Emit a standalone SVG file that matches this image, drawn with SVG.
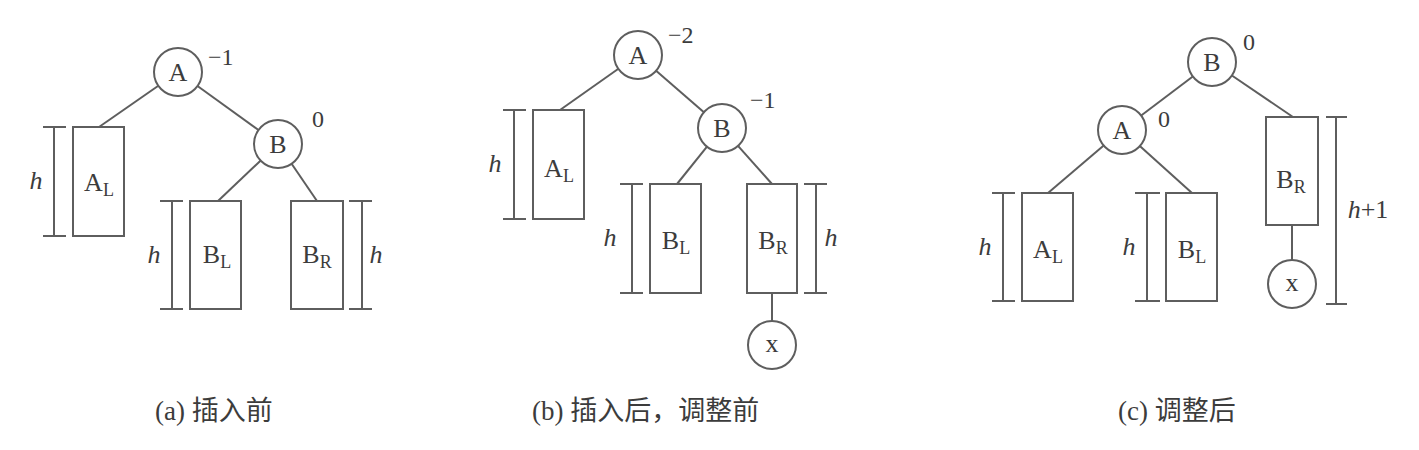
<svg xmlns="http://www.w3.org/2000/svg" width="1419" height="450" viewBox="0 0 1419 450">
<style>
.e{stroke:#5e5e5e;stroke-width:2;fill:none}
.n{fill:#fff;stroke:#5e5e5e;stroke-width:2}
.b{fill:#fff;stroke:#5e5e5e;stroke-width:2}
.k{stroke:#5e5e5e;stroke-width:2;fill:none}
text{font-family:"Liberation Serif","Noto Sans CJK SC",serif;fill:#3c3c3c}
.t{font-size:26px;text-anchor:middle}
.s{font-size:18px}
.f{font-size:24px}
.h{font-size:26px;font-style:italic;text-anchor:middle}
.c{font-size:27px}
</style>
<rect width="1419" height="450" fill="#fff"/>
<g id="connectors">
<line class="e" x1="158" y1="86" x2="99" y2="127"/>
<line class="e" x1="197.5" y1="86" x2="258.5" y2="130"/>
<line class="e" x1="260.7" y1="160.5" x2="218" y2="201"/>
<line class="e" x1="291.6" y1="163.8" x2="317" y2="201"/>
<line class="e" x1="618.4" y1="68.8" x2="560" y2="110"/>
<line class="e" x1="656.1" y1="70.7" x2="703.9" y2="112.3"/>
<line class="e" x1="707" y1="146.7" x2="677" y2="184"/>
<line class="e" x1="738" y1="145.9" x2="772" y2="184"/>
<line class="e" x1="772" y1="293" x2="772" y2="321"/>
<line class="e" x1="1192.8" y1="76.5" x2="1141.2" y2="115.5"/>
<line class="e" x1="1231.9" y1="75.5" x2="1293" y2="117"/>
<line class="e" x1="1103.7" y1="145.6" x2="1048" y2="193"/>
<line class="e" x1="1139.8" y1="146" x2="1192" y2="193"/>
<line class="e" x1="1292" y1="225" x2="1292" y2="260"/>
</g>
<g id="a-A"><circle class="n" cx="178" cy="72" r="24"/><text class="t" x="178" y="81">A</text><text class="f" x="208" y="65">−1</text></g>
<g id="a-AL"><rect class="b" x="73" y="127" width="51" height="109"/><text class="t" x="99" y="191">A<tspan class="s" dy="5">L</tspan></text>
<path class="k" d="M54 127V236M43 127H66M43 236H66"/><text class="h" x="36" y="189">h</text></g>
<g id="a-B"><circle class="n" cx="278" cy="144" r="24"/><text class="t" x="278" y="153">B</text><text class="f" x="318" y="127" text-anchor="middle">0</text></g>
<g id="a-BL"><rect class="b" x="190" y="201" width="51" height="108"/><text class="t" x="217" y="263">B<tspan class="s" dy="5">L</tspan></text>
<path class="k" d="M172 201V309M160 201H183M160 309H183"/><text class="h" x="154" y="263">h</text></g>
<g id="a-BR"><rect class="b" x="291" y="201" width="52" height="108"/><text class="t" x="317" y="263">B<tspan class="s" dy="5">R</tspan></text>
<path class="k" d="M362 201V309M349 201H372M349 309H372"/><text class="h" x="376" y="263">h</text></g>

<g id="b-A"><circle class="n" cx="638" cy="55" r="24"/><text class="t" x="638" y="64">A</text><text class="f" x="668" y="43">−2</text></g>
<g id="b-AL"><rect class="b" x="533" y="110" width="51" height="109"/><text class="t" x="559" y="177">A<tspan class="s" dy="5">L</tspan></text>
<path class="k" d="M514 110V219M503 110H526M503 219H526"/><text class="h" x="495" y="172">h</text></g>
<g id="b-B"><circle class="n" cx="722" cy="128" r="24"/><text class="t" x="722" y="137">B</text><text class="f" x="750" y="108">−1</text></g>
<g id="b-BL"><rect class="b" x="650" y="184" width="51" height="109"/><text class="t" x="676" y="249">B<tspan class="s" dy="5">L</tspan></text>
<path class="k" d="M632 184V293M620 184H643M620 293H643"/><text class="h" x="610" y="246">h</text></g>
<g id="b-BR"><rect class="b" x="747" y="184" width="50" height="109"/><text class="t" x="773" y="249">B<tspan class="s" dy="5">R</tspan></text>
<path class="k" d="M816 184V293M804 184H827M804 293H827"/><text class="h" x="831" y="246">h</text></g>
<g id="b-x"><circle class="n" cx="772" cy="345" r="24"/><text class="t" x="772" y="352">x</text></g>

<g id="c-B"><circle class="n" cx="1212" cy="62" r="24"/><text class="t" x="1212" y="71">B</text><text class="f" x="1249" y="50" text-anchor="middle">0</text></g>
<g id="c-A"><circle class="n" cx="1122" cy="130" r="24"/><text class="t" x="1122" y="139">A</text><text class="f" x="1164" y="127" text-anchor="middle">0</text></g>
<g id="c-AL"><rect class="b" x="1022" y="193" width="51" height="108"/><text class="t" x="1048" y="258">A<tspan class="s" dy="5">L</tspan></text>
<path class="k" d="M1003 193V301M992 193H1015M992 301H1015"/><text class="h" x="985" y="255">h</text></g>
<g id="c-BL"><rect class="b" x="1166" y="193" width="51" height="108"/><text class="t" x="1192" y="258">B<tspan class="s" dy="5">L</tspan></text>
<path class="k" d="M1147 193V301M1135 193H1160M1135 301H1160"/><text class="h" x="1129" y="255">h</text></g>
<g id="c-BR"><rect class="b" x="1266" y="117" width="52" height="108"/><text class="t" x="1291" y="188">B<tspan class="s" dy="5">R</tspan></text>
<path class="k" d="M1336 117V304M1326 117H1347M1326 304H1347"/><text class="h" x="1368" y="218">h<tspan font-style="normal">+1</tspan></text></g>
<g id="c-x"><circle class="n" cx="1292" cy="284" r="24"/><text class="t" x="1292" y="291">x</text></g>

<g id="captions">
<text class="c" x="155" y="420">(a) 插入前</text>
<text class="c" x="532" y="420">(b) 插入后，调整前</text>
<text class="c" x="1118" y="420">(c) 调整后</text>
</g>
</svg>
